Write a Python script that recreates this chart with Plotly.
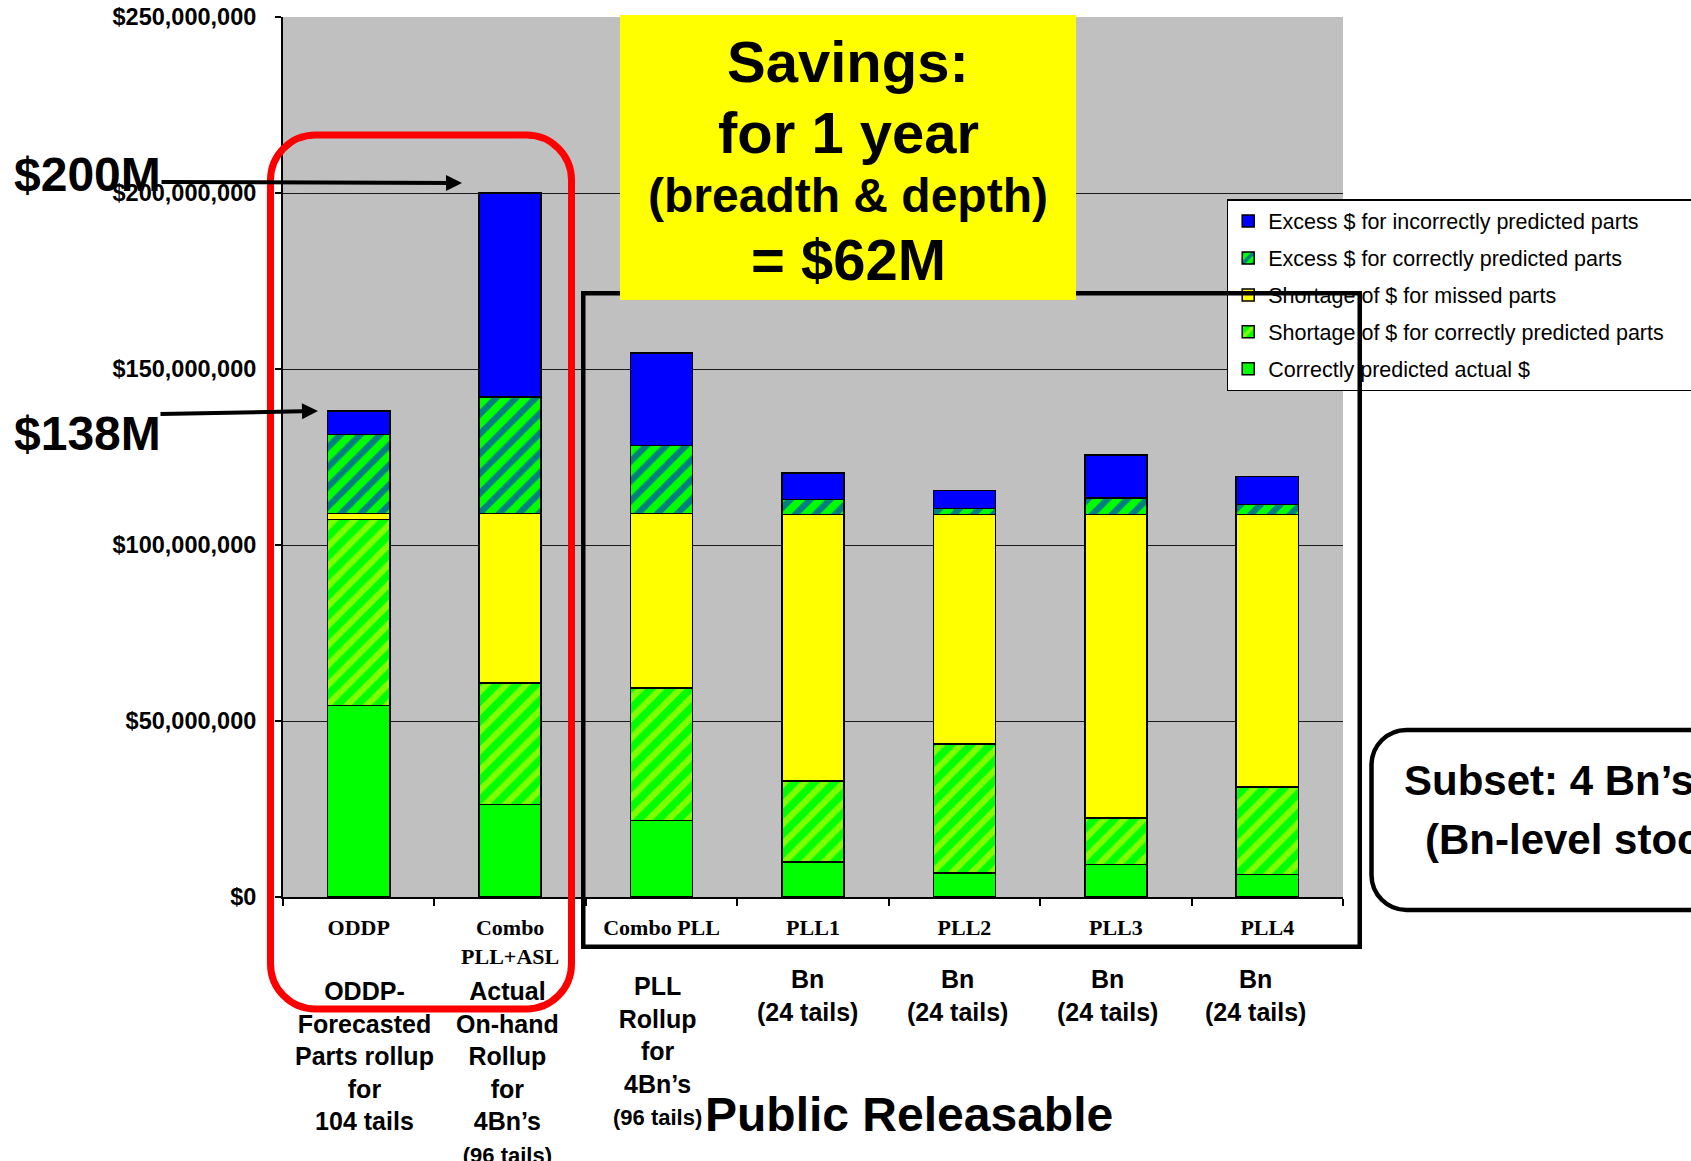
import numpy as np
import plotly.graph_objects as go

# ---- data ($ millions, stacked bottom to top) ----
categories = ["ODDP", "Combo<br>PLL+ASL", "Combo PLL", "PLL1", "PLL2", "PLL3", "PLL4"]
correct_actual = [54.4, 26.3, 21.8, 9.9, 6.8, 9.3, 6.4]
short_correct = [52.9, 34.5, 37.6, 23.0, 36.6, 13.1, 24.9]
short_missed = [1.6, 48.1, 49.5, 75.8, 65.3, 86.3, 77.4]
excess_correct = [22.5, 33.1, 19.4, 4.2, 1.6, 4.6, 2.8]
excess_incorrect = [6.6, 58.0, 26.3, 7.6, 5.2, 12.2, 8.0]

series_names = [
    "Correctly predicted actual $",
    "Shortage of $ for correctly predicted parts",
    "Shortage of $ for missed parts",
    "Excess $ for correctly predicted parts",
    "Excess $ for incorrectly predicted parts",
]
y_ticks = [0, 50, 100, 150, 200, 250]

sub_labels = [
    "ODDP-<br>Forecasted<br>Parts rollup<br>for<br>104 tails",
    "Actual<br>On-hand<br>Rollup<br>for<br>4Bn’s<br><span style='font-size:22px'>(96 tails)</span>",
    "PLL<br>Rollup<br>for<br>4Bn’s<br><span style='font-size:22px'>(96 tails)</span>",
    "Bn<br>(24 tails)",
    "Bn<br>(24 tails)",
    "Bn<br>(24 tails)",
    "Bn<br>(24 tails)",
]
savings_lines = ["Savings:", "for 1 year", "(breadth & depth)", "= $62M"]
callouts = ["$200M", "$138M"]

# ---- canvas / plot-area geometry (pixels) ----
W, H = 1691, 1161
L, R, T, B = 283, 1343, 17, 897


def px(x):
    return (x - L) / (R - L)


def py(y):
    return (B - y) / (B - T)


def rounded_path(x0, y0, x1, y1, r):
    k = 0.5523 * r
    pts = [
        ("M", [(x0 + r, y0)]),
        ("L", [(x1 - r, y0)]),
        ("C", [(x1 - r + k, y0), (x1, y0 + r - k), (x1, y0 + r)]),
        ("L", [(x1, y1 - r)]),
        ("C", [(x1, y1 - r + k), (x1 - r + k, y1), (x1 - r, y1)]),
        ("L", [(x0 + r, y1)]),
        ("C", [(x0 + r - k, y1), (x0, y1 - r + k), (x0, y1 - r)]),
        ("L", [(x0, y0 + r)]),
        ("C", [(x0, y0 + r - k), (x0 + r - k, y0), (x0 + r, y0)]),
    ]
    s = ""
    for cmd, coords in pts:
        s += cmd + " ".join(f"{px(a):.5f},{py(b):.5f}" for a, b in coords) + " "
    return s + "Z"


def money(v_millions):
    return "$" + f"{int(round(v_millions * 1e6)):,}"


GREEN, YELLOW, BLUE = "#00FF00", "#FFFF00", "#0000FF"
outline = dict(color="black", width=1.5)
to_dollars = lambda v: np.array(v) * 1e6
# the legend box runs on past the right edge of the page
legend_pad = "\u00a0" * 16

fig = go.Figure()
fig.add_trace(go.Bar(x=categories, y=to_dollars(correct_actual), name=series_names[0],
                     marker=dict(color=GREEN, line=outline), legendgroup="a", legendrank=5))
fig.add_trace(go.Bar(x=categories, y=to_dollars(short_correct), name=series_names[1] + legend_pad,
                     marker=dict(color=GREEN, line=outline,
                                 pattern=dict(shape="/", bgcolor=GREEN, fgcolor=YELLOW,
                                              size=14, solidity=0.45, fillmode="overlay")),
                     legendgroup="b", legendrank=4))
fig.add_trace(go.Bar(x=categories, y=to_dollars(short_missed), name=series_names[2],
                     marker=dict(color=YELLOW, line=outline), legendgroup="c", legendrank=3))
fig.add_trace(go.Bar(x=categories, y=to_dollars(excess_correct), name=series_names[3],
                     marker=dict(color=GREEN, line=outline,
                                 pattern=dict(shape="/", bgcolor=GREEN, fgcolor=BLUE,
                                              size=14, solidity=0.45, fillmode="overlay")),
                     legendgroup="d", legendrank=2))
fig.add_trace(go.Bar(x=categories, y=to_dollars(excess_incorrect), name=series_names[4],
                     marker=dict(color=BLUE, line=outline), legendgroup="e", legendrank=1))

SANS = "Liberation Sans"
SERIF = "Liberation Serif"

annotations = []

# frame around the PLL subset bars (drawn above the legend)
bx0, by0, bx1, by1, blw = 583.5, 293, 1360, 946, 4.5
annotations.append(dict(
    x=px(bx0 - blw / 2), y=py(by0 - blw / 2), xref="paper", yref="paper",
    xanchor="left", yanchor="top", text=" ", showarrow=False,
    width=bx1 - bx0 - blw, height=by1 - by0 - blw,
    bordercolor="black", borderwidth=blw, borderpad=0, bgcolor="rgba(0,0,0,0)"))

# yellow savings panel
sx0, sy0, sx1, sy1 = 620, 15, 1076, 300
annotations.append(dict(
    x=px(sx0), y=py(sy0), xref="paper", yref="paper",
    xanchor="left", yanchor="top", text=" ", showarrow=False,
    width=sx1 - sx0, height=sy1 - sy0, borderwidth=0, borderpad=0, bgcolor=YELLOW))

for text, yc, size in zip(savings_lines, [61.5, 132.6, 196, 259], [58, 58, 48, 58]):
    annotations.append(dict(
        x=px(848), y=py(yc), xref="paper", yref="paper", text=text, showarrow=False,
        xanchor="center", yanchor="middle",
        font=dict(family=SANS, size=size, color="black", weight="bold")))

# big value callouts with arrows
for text, yc in zip(callouts, [174, 433]):
    annotations.append(dict(
        x=px(12), y=py(yc), xref="paper", yref="paper", text=text, showarrow=False,
        xanchor="left", yanchor="middle",
        font=dict(family=SANS, size=48, color="black", weight="bold")))
for (hx, hy), (tx, ty) in [((462, 183), (160, 182)), ((318, 411), (159, 414))]:
    annotations.append(dict(
        x=px(hx), y=py(hy), xref="paper", yref="paper", text="",
        ax=tx - hx, ay=ty - hy, showarrow=True, arrowhead=2, arrowsize=0.8,
        arrowwidth=4, arrowcolor="black"))

# descriptive labels under each category
sub_x = [364.5, 507, 657, 807, 957, 1107, 1255]
sub_top = [991, 991, 986, 979, 979, 979, 979]
for text, xc, yt in zip(sub_labels, sub_x, sub_top):
    annotations.append(dict(
        x=px(xc), y=py(yt - 16.5), xref="paper", yref="paper", text=text, showarrow=False,
        xanchor="center", yanchor="top", align="center",
        font=dict(family=SANS, size=25, color="black", weight="bold")))

annotations.append(dict(
    x=px(908.5), y=py(1114), xref="paper", yref="paper", text="Public Releasable",
    showarrow=False, xanchor="center", yanchor="middle",
    font=dict(family=SANS, size=48, color="black", weight="bold")))

for text, xl, yc in [("Subset: 4 Bn’s", 1402, 780), ("(Bn-level stock)", 1423, 839)]:
    annotations.append(dict(
        x=px(xl), y=py(yc), xref="paper", yref="paper", text=text, showarrow=False,
        xanchor="left", yanchor="middle",
        font=dict(family=SANS, size=42, color="black", weight="bold")))

shapes = [
    dict(type="path", xref="paper", yref="paper", layer="above",
         path=rounded_path(270.5, 135, 571.5, 1009, 45),
         line=dict(color="#FF0000", width=7)),
    dict(type="path", xref="paper", yref="paper", layer="above",
         path=rounded_path(1371.5, 730, 1800, 910, 35),
         line=dict(color="black", width=4.5)),
]

fig.update_layout(
    width=W, height=H,
    margin=dict(l=L, r=W - R, t=T, b=H - B, autoexpand=False),
    paper_bgcolor="white", plot_bgcolor="#C0C0C0",
    barmode="stack", bargap=0.59,
    font=dict(family=SANS, color="black"),
    showlegend=True,
    legend=dict(
        x=px(1226.7), y=py(199), xref="paper", yref="paper",
        xanchor="left", yanchor="top",
        bgcolor="white", bordercolor="black", borderwidth=1.5,
        traceorder="grouped", tracegroupgap=6,
        font=dict(family=SANS, size=21.5, color="black")),
    annotations=annotations,
    shapes=shapes,
)
fig.update_yaxes(
    range=[0, 250e6], tickvals=to_dollars(y_ticks), ticktext=[money(v) for v in y_ticks],
    showgrid=True, gridcolor="#1a1a1a", gridwidth=1.2, zeroline=False,
    showline=True, linecolor="black", linewidth=2,
    ticks="outside", ticklen=6, tickwidth=1.5, tickcolor="black", ticklabelstandoff=14,
    tickfont=dict(family=SANS, size=23.5, color="black", weight="bold"))
fig.update_xaxes(
    type="category", range=[-0.5, 6.5], showgrid=False,
    showline=True, linecolor="black", linewidth=2,
    ticks="outside", tickson="boundaries", ticklen=7, tickwidth=1.5, tickcolor="black",
    ticklabelstandoff=10,
    tickfont=dict(family=SERIF, size=22, color="black", weight="bold"))

fig.write_html("out.html")
